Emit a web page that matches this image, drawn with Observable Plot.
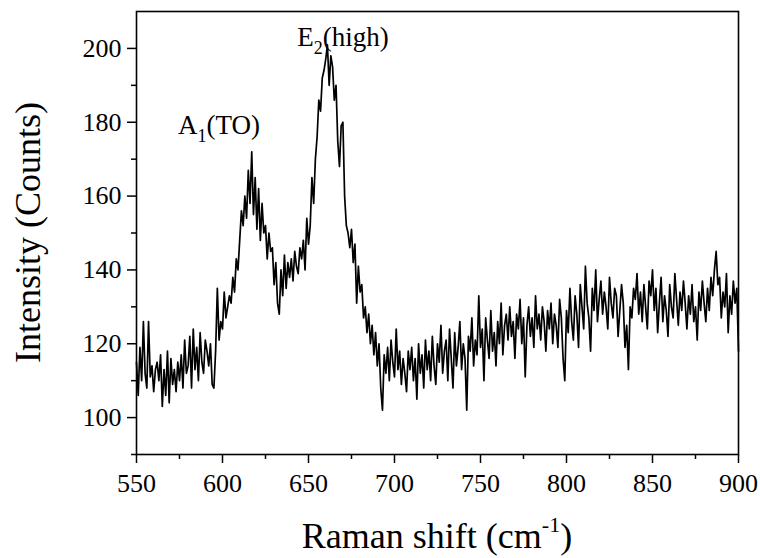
<!DOCTYPE html>
<html>
<head>
<meta charset="utf-8">
<script src="https://cdn.jsdelivr.net/npm/d3@7"></script>
<script src="https://cdn.jsdelivr.net/npm/@observablehq/plot@0.6"></script>
<style>
  html, body { margin: 0; padding: 0; background: #fff; }
  #chart svg { display: block; }
</style>
</head>
<body>
<div id="chart"></div>
<script>
// Raman shift (cm^-1), one sample per wavenumber from 550 to 900
const shiftStart = 550;
const intensity = [
  115, 106, 119, 110, 126, 112, 108, 126, 111, 114,
  107, 113, 115, 110, 117, 103, 113, 106, 118, 104,
  116, 109, 113, 107, 115, 110, 117, 108, 121, 112,
  114, 122, 108, 124, 113, 119, 110, 123, 115, 112,
  121, 118, 114, 120, 109, 108, 118, 135, 121, 126,
  124, 134, 127, 130, 133, 131, 138, 134, 143, 140,
  148, 156, 152, 160, 154, 167, 158, 172, 155, 165,
  151, 162, 148, 158, 150, 152, 143, 150, 145, 146,
  136, 142, 131, 128, 140, 133, 144, 135, 142, 138,
  143, 137, 145, 141, 139, 146, 143, 148, 140, 154,
  147, 152, 165, 158, 170, 176, 186, 183, 192, 194,
  197, 201, 190, 198, 195, 186, 190, 175, 168, 179,
  180, 160, 152, 150, 146, 151, 142, 147, 131, 141,
  134, 136, 127, 130, 123, 128, 120, 125, 117, 123,
  114, 120, 108, 102, 117, 112, 119, 110, 121, 115,
  111, 124, 113, 118, 109, 116, 112, 107, 118, 113,
  119, 110, 116, 105, 120, 112, 117, 108, 121, 113,
  118, 110, 122, 114, 109, 120, 115, 125, 112, 118,
  121, 110, 124, 116, 108, 123, 114, 119, 126, 113,
  120, 116, 102, 122, 118, 127, 114, 121, 117, 133,
  119, 124, 110, 127, 121, 116, 129, 118, 123, 114,
  126, 120, 131, 117, 125, 128, 121, 130, 122, 126,
  116, 128, 124, 132, 120, 127, 111, 125, 130, 122,
  127, 119, 133, 124, 128, 121, 130, 126, 118, 129,
  124, 131, 120, 128, 125, 119, 132, 127, 116, 110,
  129, 123, 135, 126, 121, 133, 128, 119, 136, 130,
  124, 141, 131, 127, 118, 135, 129, 140, 126, 132,
  137, 128, 134, 130, 124, 138, 131, 127, 135, 133,
  122, 129, 136, 131, 119, 125, 113, 130, 127, 135,
  132, 139, 128, 134, 126, 136, 130, 124, 137, 133,
  140, 129, 135, 123, 131, 138, 126, 133, 129, 122,
  136, 130, 127, 139, 132, 125, 134, 129, 137, 131,
  124, 133, 128, 136, 126, 130, 121, 134, 129, 137,
  131, 126, 135, 129, 138, 133, 140, 145, 136, 138,
  127, 134, 130, 139, 123, 133, 128, 137, 131, 135,
  118
];
const xTicks = [550, 600, 650, 700, 750, 800, 850, 900];
const xMinorTicks = [575, 625, 675, 725, 775, 825, 875];
const yTicks = [100, 120, 140, 160, 180, 200];
const yMinorTicks = [90, 110, 130, 150, 170, 190];
const peakLabels = [
  {x: 598.3, y: 176.8, main: "A", sub: "1", rest: "(TO)"},
  {x: 670.3, y: 200.5, main: "E", sub: "2", rest: "(high)"}
];

const data = intensity.map((v, i) => ({shift: shiftStart + i, value: v}));

const font = "'Liberation Serif', 'DejaVu Serif', serif";

const plot = Plot.plot({
  width: 760,
  height: 558,
  marginLeft: 136,
  marginRight: 22,
  marginTop: 11,
  marginBottom: 104,
  style: {fontFamily: font, background: "#fff", color: "#000"},
  x: {domain: [550, 900], label: null},
  y: {domain: [90, 210], label: null},
  marks: [
    Plot.axisX({ticks: xTicks, tickSize: 9, tickPadding: 10, fontSize: 26, strokeWidth: 1.5, label: null}),
    Plot.axisX({ticks: xMinorTicks, tickSize: 5, tickFormat: () => "", strokeWidth: 1.5, label: null}),
    Plot.axisY({ticks: yTicks, tickSize: 9, tickPadding: 6, fontSize: 26, strokeWidth: 1.5, label: null}),
    Plot.axisY({ticks: yMinorTicks, tickSize: 5, tickFormat: () => "", strokeWidth: 1.5, label: null}),
    Plot.line(data, {x: "shift", y: "value", stroke: "#000", strokeWidth: 1.7}),
    Plot.frame({stroke: "#000", strokeWidth: 1.6})
  ]
});

const svg = d3.select(plot);
const xs = plot.scale("x"), ys = plot.scale("y");

// peak annotations with subscripts
for (const p of peakLabels) {
  const t = svg.append("text")
    .attr("x", xs.apply(p.x))
    .attr("y", ys.apply(p.y))
    .attr("font-family", font)
    .attr("font-size", 27)
    .attr("fill", "#000");
  t.append("tspan").text(p.main);
  t.append("tspan").attr("font-size", 18).attr("dy", 8).text(p.sub);
  t.append("tspan").attr("dy", -8).text(p.rest);
}

// x axis title with superscript
const xt = svg.append("text")
  .attr("x", (136 + 738) / 2)
  .attr("y", 548)
  .attr("text-anchor", "middle")
  .attr("font-family", font)
  .attr("font-size", 36)
  .attr("fill", "#000");
xt.append("tspan").text("Raman shift (cm");
xt.append("tspan").attr("font-size", 22).attr("dy", -16).text("-1");
xt.append("tspan").attr("dy", 16).text(")");

// y axis title
svg.append("text")
  .attr("transform", `translate(40, ${(11 + 454) / 2}) rotate(-90)`)
  .attr("text-anchor", "middle")
  .attr("font-family", font)
  .attr("font-size", 36)
  .attr("fill", "#000")
  .text("Intensity (Counts)");

document.getElementById("chart").appendChild(plot);
</script>
</body>
</html>
